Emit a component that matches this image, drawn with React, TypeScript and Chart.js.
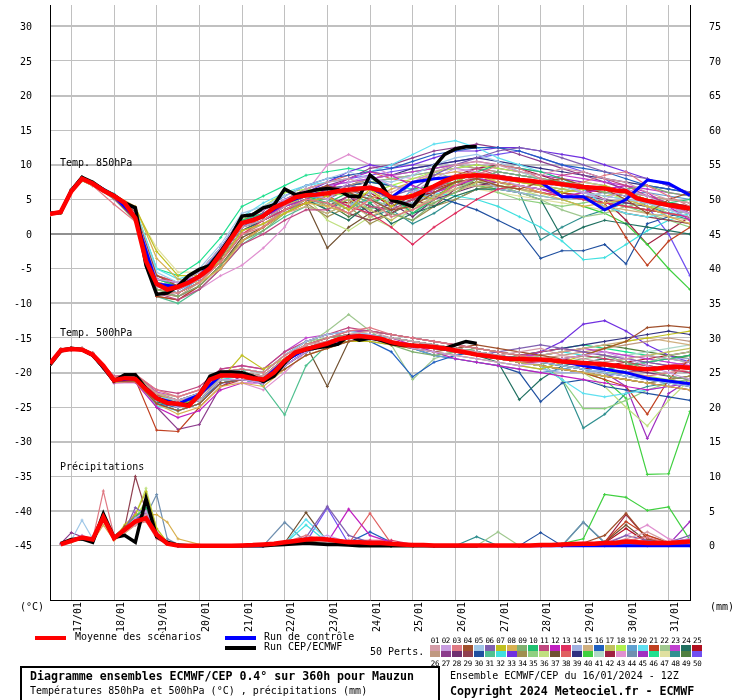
import React, { useEffect, useRef } from "react";
import { Chart, registerables } from "chart.js";
Chart.register(...registerables);

const FONT = "'DejaVu Sans Mono', monospace";

// ---- time axes (hours from 16/01 12Z) ----
const HOURS_6H = [0,6,12,18,24,30,36,42,48,54,60,66,72,78,84,90,96,102,108,114,120,126,132,138,144,150,156,162,168,174,180,186,192,198,204,210,216,222,228,234,240,246,252,258,264,270,276,282,288,294,300,306,312,318,324,330,336,342,348,354,360];
const PRECIP_HOURS_6H = HOURS_6H.slice(1);
const MEMBER_HOURS = [0,6,12,18,24,36,48,60,72,84,96,108,120,132,144,156,168,180,192,204,216,228,240,252,264,276,288,300,312,324,336,348,360];
const MEMBER_PRECIP_HOURS = [6,12,18,24,30,36,42,48,54,60,66,72,84,96,108,120,132,144,156,168,180,192,204,216,228,240,252,264,276,288,300,312,324,336,348,360];
const DAY_TICK_HOURS = [12,36,60,84,108,132,156,180,204,228,252,276,300,324,348];
const DAY_LABELS = ["17/01","18/01","19/01","20/01","21/01","22/01","23/01","24/01","25/01","26/01","27/01","28/01","29/01","30/01","31/01"];
const LEFT_TICKS = [-45,-40,-35,-30,-25,-20,-15,-10,-5,0,5,10,15,20,25,30];
const RIGHT_TICKS = [0,5,10,15,20,25,30,35,40,45,50,55,60,65,70,75];

// ---- ensemble mean (red) ----
const MEAN_T850 = [2.9,3.2,6.2,8.0,7.3,6.3,5.5,4.5,2.3,-3.9,-7.2,-8.0,-7.6,-7.0,-6.1,-4.9,-2.8,-0.6,1.6,2.0,2.6,3.8,4.5,5.3,5.6,5.7,5.9,6.2,6.4,6.6,6.7,6.3,5.3,5.2,5.5,6.2,6.9,7.7,8.2,8.4,8.5,8.4,8.2,8.0,7.8,7.7,7.5,7.4,7.2,7.0,6.8,6.7,6.6,6.3,6.2,5.2,4.8,4.5,4.2,3.9,3.7];
const MEAN_T500 = [-18.7,-16.8,-16.6,-16.7,-17.4,-19.0,-21.1,-20.8,-20.9,-22.4,-23.7,-24.4,-24.5,-24.8,-23.2,-21.0,-20.4,-20.4,-20.5,-20.8,-21.0,-20.0,-18.3,-17.1,-16.6,-16.2,-15.8,-15.2,-14.9,-14.7,-14.9,-15.1,-15.6,-15.9,-16.1,-16.2,-16.3,-16.5,-16.8,-17.1,-17.4,-17.6,-17.8,-18.0,-18.0,-18.1,-18.1,-18.2,-18.4,-18.5,-18.6,-18.7,-18.8,-19.0,-19.2,-19.4,-19.5,-19.4,-19.2,-19.2,-19.3];
const MEAN_PRECIP = [0.2,0.7,1.2,0.9,4.1,1.1,2.3,3.5,4.0,1.6,0.3,0.05,0,0,0,0,0,0.05,0.1,0.2,0.3,0.5,0.7,0.9,1.0,0.9,0.7,0.5,0.5,0.4,0.4,0.3,0.2,0.1,0.1,0.05,0.05,0.05,0.05,0.05,0.05,0.05,0.05,0.05,0.05,0.1,0.1,0.2,0.25,0.3,0.3,0.4,0.4,0.6,0.5,0.4,0.4,0.4,0.5,0.6];

// ---- operational run CEP/ECMWF (black), to 240h ----
const OPER_T850 = [3.0,3.1,6.3,8.2,7.5,6.4,5.6,4.5,3.8,-4.5,-8.7,-8.5,-7.5,-6.0,-5.1,-4.5,-2.5,-0.3,2.6,2.8,3.8,4.2,6.5,5.7,6.0,6.4,6.6,6.4,5.5,5.4,8.5,7.3,4.9,4.5,4.0,5.9,9.7,11.5,12.3,12.6,12.6];
const OPER_T500 = [-18.9,-16.9,-16.5,-16.7,-17.5,-19.2,-21.2,-20.3,-20.3,-22.3,-23.7,-24.3,-24.6,-24.6,-23.3,-20.5,-19.9,-19.9,-20.0,-20.5,-21.3,-20.5,-18.6,-17.1,-16.7,-16.4,-16.2,-15.9,-14.7,-15.3,-15.0,-15.3,-15.8,-16.0,-16.1,-16.2,-16.3,-16.5,-16.0,-15.5,-15.8];
const OPER_PRECIP = [0.3,0.9,1.0,0.5,4.6,1.2,1.5,0.5,6.8,1.3,0.5,0.1,0,0,0,0,0,0,0,0,0.1,0.2,0.3,0.4,0.3,0.2,0.2,0.1,0,0,0,0,0,0,0,0,0,0,0,0];

// ---- control run (blue) ----
const CTRL_T850 = [3.0,3.1,6.3,8.1,7.4,5.5,2.4,-7.2,-7.6,-6.1,-2.8,1.6,2.6,4.5,5.6,5.9,6.4,6.7,5.3,7.5,8.0,8.2,8.5,8.2,7.8,7.5,5.4,5.4,3.5,5.0,7.8,7.3,5.6];
const CTRL_T500 = [-18.7,-16.8,-16.6,-16.7,-17.4,-21.1,-20.9,-23.7,-24.5,-23.2,-20.4,-20.5,-21.0,-18.3,-16.6,-15.8,-14.9,-14.9,-15.6,-16.1,-16.3,-16.8,-17.4,-17.8,-18.0,-18.1,-18.4,-19.0,-19.5,-20.0,-20.8,-21.2,-21.6];
const CTRL_PRECIP = [0.2,0.7,1.2,0.9,4.1,1.1,2.3,3.5,4.0,1.6,0.3,0,0,0,0,0,0.5,0.9,0.9,0.5,0.4,0.3,0.1,0,0,0,0,0,0,0,0,0,0,0,0,0];

// ---- 50 perturbed members ----
const MEMBER_COLORS = ["#d49ca8","#c89ce0","#e07a84","#a0502c","#a0c8e8","#8060b0","#c0c020","#d8b050","#80b070","#20c070","#c04880","#c020c0","#e03060","#a0b0e0","#d0b080","#2060c0","#c0c060","#b0f050","#60a0d0","#60e0f0","#c04020","#a0c890","#c040d0","#207060","#b01020","#c09880","#8c3c8c","#703070","#904050","#2050a0","#50c090","#40e0e0","#7030e0","#a09050","#90d080","#c0e080","#705030","#e06060","#303080","#40d040","#b0d8c8","#a02040","#e090d0","#7090b0","#a030c0","#20e090","#e0e0a0","#309090","#508040","#7050f0"];

const MEMBERS_T850 = [
[2.9,3.2,6.2,8.0,7.2,5.4,2.6,-7.5,-8.0,-6.5,-3.0,1.0,2.0,4.0,6.5,7.5,8.0,7.0,6.0,7.5,9.0,10.0,10.5,10.0,9.0,8.5,9.5,9.0,8.0,7.5,6.0,5.0,4.5],
[3.0,3.3,6.4,8.2,7.4,5.6,3.0,-6.5,-7.0,-5.5,-2.0,2.5,3.5,5.0,6.0,5.0,7.5,8.5,7.0,6.0,8.0,9.5,9.0,8.0,7.0,6.5,7.5,6.0,5.0,6.5,5.5,4.0,3.0],
[2.8,3.1,6.1,7.8,7.0,4.3,1.8,-8.5,-8.5,-7.0,-4.0,0.0,1.0,3.5,5.0,4.5,3.0,5.0,2.5,3.5,5.0,7.0,8.5,10.0,9.5,8.0,7.0,7.5,8.5,9.0,7.0,5.5,4.0],
[2.9,3.2,6.3,8.1,7.3,5.5,3.2,-6.0,-7.5,-6.0,-3.5,1.5,2.5,4.5,6.0,7.0,6.0,5.0,3.5,4.0,6.0,7.5,8.0,7.0,6.5,7.5,8.0,7.0,6.5,5.0,3.0,5.0,6.0],
[3.0,3.3,6.5,8.3,7.5,5.8,3.5,-5.5,-7.0,-5.0,-1.5,3.0,4.0,5.5,7.0,8.0,9.0,8.0,7.5,8.5,10.0,11.0,11.5,10.5,9.0,8.0,7.0,6.0,5.5,5.0,4.5,3.5,2.5],
[2.9,3.2,6.2,8.0,7.3,5.5,2.5,-7.0,-8.0,-6.5,-3.0,1.0,3.0,5.0,6.0,6.5,7.0,6.5,5.5,6.5,8.5,10.0,11.0,12.0,12.5,12.0,11.0,10.0,9.0,8.5,8.0,7.0,6.0],
[2.8,3.0,6.0,7.7,7.0,5.3,3.8,-2.5,-6.0,-6.0,-4.0,0.5,1.5,3.0,4.5,5.5,3.5,6.5,4.0,6.0,5.0,7.5,9.0,8.0,7.5,7.0,6.0,6.5,7.0,6.0,5.0,4.0,3.5],
[3.0,3.3,6.4,8.3,7.5,5.7,4.0,-3.5,-6.5,-7.0,-5.0,-1.0,1.0,3.0,4.5,4.0,3.0,5.0,6.5,7.5,8.5,9.0,8.5,7.5,7.0,6.0,5.0,4.0,4.5,5.0,4.0,2.5,1.5],
[2.9,3.1,6.2,7.9,7.2,5.4,2.4,-8.0,-9.0,-7.5,-4.5,-1.0,0.5,3.0,5.0,5.0,3.5,5.5,3.0,2.0,4.5,6.0,8.0,9.0,8.5,8.0,7.5,7.0,6.0,6.5,7.0,6.0,5.5],
[3.0,3.2,6.3,8.1,7.4,5.6,3.0,-6.5,-7.5,-6.0,-2.5,2.0,3.0,4.5,5.5,4.5,6.0,4.5,5.5,3.0,5.0,7.5,9.0,10.0,9.5,9.0,8.0,7.0,6.5,6.0,5.0,4.5,5.0],
[2.8,3.1,6.1,7.9,7.1,5.2,2.2,-8.5,-9.5,-8.0,-5.0,-1.5,0.0,2.0,3.5,3.5,5.5,4.0,3.5,5.0,6.5,8.0,9.5,8.5,8.0,7.5,8.5,9.0,8.0,7.0,5.5,4.5,3.0],
[2.9,3.2,6.2,8.0,7.3,5.5,2.7,-7.5,-8.0,-6.5,-3.0,1.5,2.5,4.0,5.0,6.5,8.0,9.0,8.5,7.0,6.0,7.0,8.0,7.5,7.0,6.5,5.5,6.0,6.5,7.0,6.0,4.0,2.0],
[3.0,3.3,6.4,8.2,7.4,5.7,3.4,-6.0,-7.0,-6.5,-4.0,0.0,2.0,3.5,4.5,5.5,4.0,3.0,1.0,-1.5,1.0,3.0,5.0,6.5,7.0,6.0,5.5,5.0,4.5,4.0,3.5,3.0,2.5],
[2.9,3.2,6.3,8.1,7.3,5.5,2.8,-7.0,-7.5,-6.0,-2.5,1.0,2.5,4.5,6.5,5.0,4.0,6.0,5.0,4.5,6.0,7.0,8.5,6.5,6.0,5.5,5.0,5.5,6.0,5.5,4.5,3.5,3.0],
[2.8,3.1,6.1,7.9,7.2,5.3,2.4,-8.0,-8.5,-7.0,-3.5,0.5,1.5,3.0,4.0,3.0,4.5,2.5,4.0,3.5,5.5,6.5,7.0,7.0,6.5,6.0,5.5,5.0,4.0,3.5,3.0,2.5,2.0],
[3.0,3.2,6.3,8.0,7.4,5.6,2.9,-7.0,-8.0,-6.0,-2.0,2.5,3.5,5.5,7.0,8.0,8.5,9.0,9.5,10.5,11.5,12.0,12.5,12.5,12.0,11.0,10.0,9.5,9.0,8.0,7.0,6.5,6.0],
[2.9,3.2,6.2,8.0,7.3,5.4,2.6,-7.5,-8.0,-6.5,-3.0,1.5,2.5,4.0,5.5,4.0,5.0,3.5,2.0,4.0,4.5,6.0,7.5,8.0,7.5,7.0,6.5,6.0,5.5,6.0,5.0,4.0,3.5],
[3.0,3.3,6.4,8.2,7.5,5.7,3.3,-6.0,-7.0,-5.5,-2.0,2.0,4.0,6.0,6.5,6.0,5.5,6.0,7.0,8.0,9.0,9.5,10.0,9.5,9.0,8.0,7.5,7.0,6.0,5.0,4.0,3.5,3.0],
[2.9,3.2,6.2,8.0,7.2,5.5,2.7,-7.5,-8.5,-6.5,-3.0,1.0,2.0,3.5,5.0,5.5,4.0,5.0,3.5,6.5,5.0,7.5,8.0,9.0,8.5,8.0,7.5,7.0,6.5,6.0,6.0,5.5,5.0],
[3.0,3.3,6.5,8.3,7.5,5.8,3.5,-5.0,-6.5,-5.5,-2.0,2.5,4.5,6.0,7.0,7.5,8.0,9.0,10.0,11.5,13.0,13.5,12.5,11.0,10.0,9.0,8.0,6.5,4.0,3.0,2.5,3.0,4.0],
[2.8,3.0,6.0,7.8,7.0,5.2,2.0,-9.0,-9.5,-7.5,-4.5,-1.0,1.0,3.0,4.5,5.5,6.0,6.5,5.0,5.5,6.5,7.5,8.0,7.5,7.0,6.5,6.0,5.5,4.5,-0.5,-4.5,-1.0,1.0],
[2.9,3.2,6.2,8.0,7.3,5.5,2.8,-7.0,-7.5,-6.0,-3.0,1.0,2.5,4.0,5.5,4.5,6.0,3.5,5.0,3.0,5.5,6.5,8.0,7.0,6.0,5.0,3.5,2.5,3.0,4.0,4.5,3.0,2.5],
[3.0,3.3,6.4,8.2,7.4,5.6,3.1,-6.5,-7.0,-6.0,-2.5,1.5,3.0,4.5,6.0,7.0,7.5,8.0,8.5,9.0,9.5,10.0,10.5,10.0,9.5,9.0,8.5,8.0,7.5,7.0,6.5,6.0,5.5],
[2.9,3.1,6.1,7.9,7.2,5.4,2.5,-8.0,-8.5,-7.0,-3.5,0.5,2.0,4.0,5.0,3.5,2.0,4.5,1.5,3.0,4.0,5.5,6.5,6.5,6.0,5.0,-0.5,1.0,2.0,1.5,1.0,0.5,0.0],
[3.0,3.2,6.3,8.1,7.3,5.5,2.9,-7.0,-7.5,-6.0,-2.5,1.5,3.0,4.5,6.0,5.0,4.5,6.0,4.0,5.5,6.0,7.5,8.0,8.5,8.0,7.5,7.0,6.5,6.0,5.5,5.0,4.5,4.0],
[2.8,3.1,6.1,7.8,7.1,5.3,2.3,-8.5,-9.0,-7.0,-4.0,0.0,1.5,3.5,5.0,6.0,7.0,8.0,8.5,9.0,9.5,10.0,9.5,9.0,8.5,8.0,7.5,7.0,6.5,6.0,5.5,5.0,4.5],
[3.0,3.3,6.4,8.2,7.4,5.6,3.2,-6.5,-7.0,-5.5,-2.0,2.0,3.5,5.0,6.0,7.0,8.0,9.5,10.0,11.0,12.0,12.5,13.0,12.5,11.5,10.5,9.5,8.5,7.5,6.5,5.5,4.5,3.5],
[2.9,3.2,6.2,8.0,7.3,5.5,2.6,-7.5,-8.0,-6.5,-3.0,1.0,2.5,4.0,5.5,4.0,5.5,3.0,4.5,2.5,5.0,6.0,7.0,7.5,7.0,6.5,6.0,5.5,5.0,4.5,4.0,3.5,3.0],
[2.9,3.1,6.2,7.9,7.2,5.4,2.5,-8.0,-8.5,-7.0,-3.5,0.5,2.0,3.5,5.0,4.5,3.0,2.0,3.0,5.0,4.0,6.5,7.5,8.5,8.0,7.0,6.0,5.0,4.0,3.0,2.5,2.0,1.5],
[3.0,3.2,6.3,8.1,7.3,5.5,2.8,-7.0,-8.0,-6.5,-3.0,1.0,2.5,4.0,5.5,6.5,7.0,7.5,7.0,6.0,5.5,4.5,3.5,2.0,0.5,-3.5,-2.4,-2.4,-1.5,-4.3,1.5,2.5,3.5],
[2.8,3.0,6.0,7.7,7.0,5.1,1.9,-9.0,-10.0,-8.0,-5.0,-1.5,0.5,2.5,4.0,3.0,4.5,3.5,5.0,4.5,6.0,7.5,9.0,8.0,7.5,7.0,6.5,6.0,5.5,5.0,4.5,4.0,3.5],
[3.0,3.3,6.4,8.2,7.5,5.7,3.3,-6.0,-7.0,-5.5,-2.0,2.0,3.0,4.5,6.0,7.0,7.5,8.0,7.0,6.5,6.0,5.5,5.0,4.0,2.5,1.0,-1.0,-3.7,-3.4,-1.5,0.5,2.0,3.0],
[2.9,3.2,6.3,8.1,7.3,5.5,2.7,-7.5,-8.0,-6.5,-3.0,1.0,2.0,4.0,6.0,7.5,9.0,10.0,9.5,10.0,11.0,12.0,12.0,12.5,12.5,12.0,11.5,11.0,10.0,9.0,8.0,7.0,6.0],
[2.9,3.1,6.1,7.9,7.2,5.3,2.4,-8.0,-8.5,-7.0,-4.0,0.0,1.5,3.0,4.5,2.5,4.0,1.5,3.0,2.0,4.0,5.0,6.5,7.0,6.5,6.0,5.5,5.0,4.5,4.0,3.5,3.0,2.5],
[3.0,3.2,6.3,8.1,7.4,5.6,3.0,-6.5,-7.5,-6.0,-2.5,1.5,3.0,4.5,6.0,6.5,7.0,7.5,8.0,8.5,9.0,8.0,7.0,6.0,5.0,4.5,4.0,4.5,5.0,4.0,3.0,2.0,1.0],
[2.9,3.2,6.2,8.0,7.3,5.5,2.8,-7.0,-7.5,-6.0,-3.0,1.0,2.5,4.0,5.5,2.0,0.5,2.5,1.0,4.0,5.0,6.5,8.0,7.5,6.5,5.5,6.5,7.5,7.0,6.0,5.5,5.0,4.5],
[2.8,3.1,6.1,7.8,7.1,5.2,2.2,-8.5,-9.0,-7.5,-4.5,-0.5,1.0,3.5,4.5,-2.0,1.0,3.0,4.0,5.0,6.0,7.0,7.5,7.0,6.5,6.0,5.5,5.0,4.5,4.0,3.5,3.0,2.5],
[3.0,3.3,6.4,8.2,7.4,5.6,3.1,-6.5,-7.0,-5.5,-2.5,1.5,3.5,5.0,6.5,7.5,8.5,9.0,8.0,7.5,8.0,8.5,9.0,8.5,8.0,7.5,7.0,6.5,6.0,5.5,5.0,4.5,4.0],
[2.9,3.2,6.2,8.0,7.3,5.5,2.7,-7.5,-8.0,-6.5,-3.0,1.0,2.0,3.5,5.0,6.0,7.0,8.0,8.5,9.5,10.0,10.5,11.0,10.5,10.0,9.5,9.0,8.5,8.0,7.5,7.0,6.5,6.0],
[3.0,3.2,6.3,8.1,7.3,5.6,3.0,-6.5,-7.5,-6.0,-2.5,1.5,3.0,4.5,6.0,6.5,7.0,7.5,7.0,6.5,7.0,7.5,7.0,6.5,6.0,5.5,5.0,4.0,3.0,1.5,-1.5,-5.0,-8.0],
[2.9,3.1,6.2,7.9,7.2,5.4,2.5,-8.0,-8.5,-7.0,-3.5,0.5,2.0,3.5,5.0,4.0,3.0,4.5,2.5,3.0,4.5,6.5,7.5,7.5,7.0,6.5,6.0,5.5,5.0,4.5,4.0,3.5,3.0],
[3.0,3.3,6.4,8.2,7.4,5.7,3.3,-6.0,-7.0,-5.5,-2.0,2.0,3.0,4.5,6.0,7.0,6.5,5.5,4.5,5.5,7.0,8.5,9.5,10.0,9.5,8.5,7.5,6.5,5.0,2.0,-1.5,0.5,2.5],
[2.9,3.2,6.2,8.0,7.3,5.0,2.4,-7.5,-9.0,-8.0,-6.0,-4.5,-2.0,1.0,6.0,10.0,11.5,10.0,8.5,8.0,8.5,9.0,9.5,9.0,8.5,8.0,7.5,7.0,6.5,6.0,5.5,5.0,4.5],
[3.0,3.2,6.3,8.1,7.3,5.5,2.9,-7.0,-8.0,-6.5,-3.0,1.0,2.5,4.0,5.5,5.0,6.5,5.0,4.0,5.0,6.5,7.0,8.0,9.0,8.5,8.0,7.0,6.0,5.0,4.0,3.5,3.0,2.5],
[2.9,3.2,6.2,8.0,7.3,5.5,2.6,-7.5,-8.5,-7.0,-3.5,0.5,2.0,3.5,5.0,6.0,7.0,7.5,8.0,8.5,9.0,9.5,10.0,9.5,9.0,8.5,8.0,7.5,7.0,6.0,5.0,4.0,3.0],
[3.0,3.3,6.5,8.3,7.5,5.8,3.6,-5.0,-6.0,-4.0,-0.5,4.0,5.5,7.0,8.5,9.0,9.5,9.0,8.5,9.0,9.5,10.0,9.5,9.0,8.5,8.0,7.5,7.0,6.5,6.0,5.5,5.0,4.5],
[2.9,3.1,6.1,7.9,7.2,5.4,3.5,-2.0,-5.5,-5.5,-3.5,0.5,2.5,4.0,5.0,3.5,4.5,6.0,4.0,5.5,4.0,5.5,6.5,6.0,5.5,5.0,4.5,4.0,3.5,3.0,2.5,2.0,1.5],
[3.0,3.2,6.3,8.1,7.3,5.5,2.8,-7.0,-8.0,-6.5,-3.0,1.0,2.5,4.0,5.5,3.5,5.0,2.5,3.5,1.5,3.0,5.0,6.5,7.0,6.0,-0.8,1.0,2.5,3.5,4.5,4.0,3.0,2.0],
[2.8,3.1,6.1,7.8,7.1,5.2,2.1,-9.0,-9.5,-7.5,-4.5,-1.0,1.0,3.0,4.5,4.5,2.5,4.0,3.0,4.5,5.5,7.0,8.5,8.5,8.0,7.5,7.0,6.5,6.0,5.5,5.0,4.5,4.0],
[3.0,3.3,6.4,8.2,7.4,5.6,3.2,-6.5,-7.0,-5.5,-2.0,2.0,3.5,5.0,6.5,7.5,8.0,8.5,9.0,9.5,10.0,10.5,11.0,11.5,12.0,11.0,10.0,9.0,8.0,6.0,4.0,0.0,-6.0]
];

const MEMBERS_T500 = [
[-18.6,-16.7,-16.5,-16.6,-17.3,-20.8,-20.5,-23.0,-24.0,-23.5,-20.5,-20.0,-20.5,-18.0,-16.0,-15.5,-14.5,-14.0,-15.0,-15.5,-16.0,-16.5,-17.0,-17.5,-17.0,-16.5,-17.5,-18.0,-18.5,-18.0,-17.5,-18.0,-18.5],
[-18.7,-16.8,-16.6,-16.7,-17.5,-21.2,-21.0,-24.0,-25.0,-24.0,-21.0,-21.0,-21.5,-19.0,-17.0,-16.0,-15.0,-14.5,-15.5,-16.5,-17.0,-17.5,-18.0,-18.5,-19.0,-18.5,-18.0,-17.5,-17.0,-18.0,-19.0,-20.0,-21.0],
[-18.5,-16.6,-16.4,-16.5,-17.2,-20.6,-20.2,-22.5,-23.5,-22.5,-19.8,-19.5,-20.0,-17.5,-16.0,-15.0,-14.0,-13.5,-14.5,-15.0,-15.5,-16.0,-16.5,-17.0,-17.5,-18.0,-18.5,-19.0,-19.5,-20.0,-20.5,-20.0,-19.5],
[-18.8,-16.9,-16.7,-16.8,-17.6,-21.3,-21.2,-24.5,-25.5,-24.5,-21.5,-21.0,-21.0,-19.5,-17.5,-16.5,-15.5,-15.0,-16.0,-16.5,-17.0,-16.5,-16.0,-16.5,-17.0,-17.5,-18.0,-17.5,-16.5,-15.5,-13.5,-13.2,-13.5],
[-18.6,-16.7,-16.5,-16.6,-17.3,-20.9,-20.7,-23.5,-24.0,-23.0,-20.0,-19.5,-20.0,-17.5,-15.5,-14.5,-14.0,-14.5,-15.0,-15.5,-16.0,-16.5,-17.0,-17.5,-18.0,-18.5,-19.0,-19.5,-20.0,-20.5,-21.0,-21.5,-22.0],
[-18.7,-16.8,-16.6,-16.7,-17.4,-21.0,-20.8,-23.8,-24.5,-23.0,-20.5,-20.5,-21.0,-18.5,-16.5,-15.5,-14.5,-14.5,-15.5,-16.0,-16.5,-17.0,-17.5,-17.0,-16.5,-16.0,-16.5,-17.0,-17.5,-18.0,-18.5,-19.0,-19.5],
[-18.5,-16.6,-16.4,-16.5,-17.2,-20.7,-20.4,-23.0,-24.5,-24.0,-21.0,-17.5,-19.5,-18.0,-16.5,-16.0,-15.5,-15.5,-16.0,-16.5,-17.0,-17.5,-18.0,-18.5,-19.0,-19.5,-18.5,-17.5,-16.5,-15.5,-15.0,-14.5,-14.0],
[-18.8,-16.9,-16.7,-16.8,-17.6,-21.4,-21.3,-24.5,-26.0,-25.0,-22.0,-21.5,-22.0,-19.5,-17.5,-16.5,-15.5,-15.0,-15.5,-16.0,-16.5,-17.0,-17.5,-18.0,-18.5,-19.0,-19.5,-20.0,-20.5,-21.0,-21.5,-22.0,-22.5],
[-18.6,-16.7,-16.5,-16.6,-17.3,-20.9,-20.6,-23.5,-24.0,-23.5,-20.5,-20.0,-20.5,-18.0,-16.0,-15.0,-14.5,-15.0,-16.0,-17.0,-17.5,-17.0,-16.5,-17.0,-17.5,-18.0,-18.5,-18.0,-17.5,-18.5,-19.5,-20.5,-21.0],
[-18.7,-16.8,-16.6,-16.7,-17.5,-21.1,-21.0,-24.0,-24.5,-23.5,-20.5,-20.5,-21.0,-18.5,-16.5,-15.5,-15.0,-14.5,-15.0,-15.5,-16.0,-16.5,-17.0,-17.5,-18.0,-18.0,-18.5,-19.0,-19.5,-19.0,-18.5,-18.0,-17.5],
[-18.5,-16.6,-16.4,-16.5,-17.2,-20.5,-20.3,-22.5,-23.0,-22.0,-19.5,-19.0,-19.5,-17.0,-15.5,-14.5,-13.5,-14.0,-14.5,-15.0,-15.5,-16.0,-16.5,-17.0,-17.5,-17.0,-16.5,-17.0,-17.5,-18.0,-18.5,-19.0,-19.5],
[-18.8,-16.9,-16.7,-16.8,-17.6,-21.5,-21.4,-25.0,-26.5,-25.5,-22.5,-21.5,-21.5,-19.0,-17.0,-16.0,-15.0,-14.5,-15.0,-16.0,-17.0,-18.0,-18.5,-19.0,-19.5,-20.0,-20.5,-21.0,-21.5,-22.0,-22.5,-22.0,-21.5],
[-18.6,-16.7,-16.5,-16.6,-17.3,-20.8,-20.6,-23.2,-24.0,-23.0,-20.0,-20.0,-20.5,-18.0,-16.0,-15.0,-14.5,-14.5,-15.5,-16.0,-16.5,-17.0,-17.5,-18.0,-18.5,-18.5,-18.0,-17.5,-18.0,-18.5,-19.0,-19.5,-20.0],
[-18.7,-16.8,-16.6,-16.7,-17.4,-21.0,-20.9,-23.7,-24.5,-23.0,-20.5,-20.5,-21.0,-18.5,-16.5,-15.5,-15.0,-15.5,-16.0,-16.5,-17.0,-17.5,-18.0,-18.5,-19.0,-19.5,-20.0,-20.0,-19.5,-19.0,-18.5,-18.0,-18.0],
[-18.5,-16.6,-16.4,-16.5,-17.2,-20.6,-20.4,-23.0,-23.5,-22.5,-20.0,-19.5,-20.0,-17.5,-16.0,-15.5,-15.0,-15.0,-15.5,-16.0,-16.5,-17.0,-17.5,-18.0,-18.0,-17.5,-17.0,-16.5,-16.0,-15.5,-15.0,-15.5,-16.0],
[-18.8,-16.9,-16.7,-16.8,-17.6,-21.3,-21.2,-24.5,-25.0,-24.0,-21.5,-21.0,-21.5,-19.0,-17.0,-16.0,-15.5,-15.5,-17.0,-20.6,-18.5,-17.5,-17.0,-17.5,-18.0,-18.5,-19.0,-19.5,-20.0,-20.5,-21.0,-21.5,-22.0],
[-18.6,-16.7,-16.5,-16.6,-17.3,-20.9,-20.7,-23.5,-24.5,-23.5,-20.5,-20.0,-20.5,-18.0,-16.5,-15.5,-14.5,-14.0,-14.5,-15.0,-15.5,-16.0,-16.5,-17.0,-17.5,-18.0,-18.5,-19.0,-18.5,-18.0,-17.5,-17.0,-16.5],
[-18.7,-16.8,-16.6,-16.7,-17.5,-21.1,-21.0,-24.0,-24.5,-23.5,-20.5,-20.5,-21.0,-18.5,-16.5,-15.5,-15.0,-14.5,-15.0,-15.5,-16.0,-16.5,-17.0,-17.5,-18.0,-18.5,-19.0,-19.5,-20.0,-20.0,-20.5,-21.0,-21.5],
[-18.5,-16.6,-16.4,-16.5,-17.2,-20.7,-20.5,-23.0,-24.0,-23.0,-20.0,-19.5,-20.0,-17.5,-15.5,-14.5,-14.0,-14.5,-15.5,-16.5,-17.5,-18.0,-18.5,-19.0,-19.5,-20.0,-19.5,-19.0,-18.5,-18.0,-17.5,-18.0,-18.5],
[-18.8,-16.9,-16.7,-16.8,-17.6,-21.4,-21.3,-24.8,-25.5,-24.5,-21.5,-21.0,-21.5,-19.0,-17.0,-16.0,-15.0,-15.0,-15.5,-16.0,-16.5,-17.0,-17.5,-18.0,-18.5,-19.0,-21.0,-23.0,-23.5,-23.0,-22.5,-22.0,-21.5],
[-18.6,-16.7,-16.5,-16.6,-17.3,-21.0,-21.0,-28.3,-28.5,-25.0,-22.0,-21.0,-21.0,-18.5,-16.5,-15.5,-15.0,-15.0,-15.5,-16.0,-16.5,-17.0,-17.5,-18.0,-18.5,-19.0,-19.5,-20.0,-21.0,-22.0,-26.0,-21.0,-18.0],
[-18.7,-16.8,-16.6,-16.7,-17.4,-21.0,-20.8,-23.5,-24.5,-23.5,-20.5,-20.0,-20.5,-18.5,-16.0,-14.0,-11.6,-14.0,-16.0,-21.0,-18.0,-17.0,-17.5,-18.0,-18.5,-19.0,-19.5,-20.0,-20.5,-19.5,-18.5,-17.5,-17.0],
[-18.5,-16.6,-16.4,-16.5,-17.2,-20.6,-20.3,-22.8,-23.5,-22.5,-19.5,-19.0,-19.5,-17.0,-15.0,-14.5,-14.0,-14.0,-14.5,-15.0,-15.5,-16.0,-16.5,-17.0,-17.5,-17.5,-17.0,-16.5,-17.0,-17.5,-18.0,-18.5,-19.0],
[-18.8,-16.9,-16.7,-16.8,-17.6,-21.3,-21.1,-24.2,-25.0,-24.0,-21.0,-21.0,-21.5,-19.0,-17.0,-16.0,-15.5,-15.0,-15.5,-16.0,-16.5,-17.0,-17.5,-18.5,-23.9,-21.0,-19.0,-18.5,-18.0,-18.5,-19.0,-19.5,-20.0],
[-18.6,-16.7,-16.5,-16.6,-17.3,-20.9,-20.7,-23.6,-24.5,-23.5,-20.5,-20.5,-21.0,-18.5,-16.5,-15.5,-15.0,-14.5,-15.0,-15.5,-16.0,-16.5,-17.0,-17.5,-18.0,-18.5,-19.0,-19.5,-19.0,-18.5,-18.0,-17.5,-17.0],
[-18.7,-16.8,-16.6,-16.7,-17.5,-21.1,-20.9,-23.8,-24.5,-23.5,-20.5,-20.5,-21.0,-18.5,-16.5,-15.5,-15.0,-15.0,-15.5,-16.0,-16.5,-17.0,-17.5,-18.0,-18.5,-18.0,-17.5,-17.0,-16.5,-16.0,-15.5,-15.0,-15.5],
[-18.5,-16.6,-16.4,-16.5,-17.2,-20.7,-20.6,-25.0,-28.2,-27.5,-22.0,-20.5,-20.5,-18.0,-16.0,-15.0,-14.5,-14.5,-15.0,-15.5,-16.0,-16.5,-17.0,-17.5,-18.0,-18.5,-19.0,-19.5,-20.0,-20.5,-21.0,-21.5,-22.0],
[-18.8,-16.9,-16.7,-16.8,-17.6,-21.4,-21.2,-24.5,-25.5,-24.5,-21.5,-21.0,-21.0,-18.5,-16.5,-15.5,-15.0,-15.0,-15.5,-16.0,-16.5,-17.0,-17.5,-18.0,-18.5,-18.5,-18.0,-18.5,-19.0,-19.5,-20.0,-20.5,-21.0],
[-18.6,-16.7,-16.5,-16.6,-17.3,-20.8,-20.6,-23.4,-24.0,-23.0,-20.0,-20.0,-20.5,-18.0,-16.0,-15.0,-14.0,-14.0,-14.5,-15.0,-15.5,-16.0,-16.5,-17.0,-17.5,-18.0,-18.5,-19.0,-19.5,-19.0,-18.5,-18.0,-17.5],
[-18.7,-16.8,-16.6,-16.7,-17.4,-21.0,-20.9,-23.8,-24.5,-23.5,-20.5,-20.5,-21.0,-18.5,-16.5,-15.5,-15.0,-15.0,-15.5,-16.5,-17.5,-18.0,-18.5,-19.0,-20.0,-24.2,-21.5,-21.0,-22.0,-22.5,-23.0,-23.5,-24.0],
[-18.5,-16.6,-16.4,-16.5,-17.2,-20.6,-20.4,-23.0,-24.0,-23.0,-20.0,-19.5,-22.0,-26.1,-19.0,-16.0,-15.0,-15.0,-15.5,-16.0,-16.5,-17.0,-17.5,-18.0,-18.5,-19.0,-19.5,-20.0,-19.5,-19.0,-18.5,-18.0,-17.5],
[-18.8,-16.9,-16.7,-16.8,-17.6,-21.2,-21.0,-24.0,-25.0,-24.0,-21.0,-20.5,-21.0,-18.5,-16.5,-15.5,-14.5,-14.5,-15.0,-15.5,-16.0,-16.5,-17.0,-17.5,-18.0,-17.5,-17.0,-17.5,-18.0,-18.5,-19.0,-19.5,-20.0],
[-18.6,-16.7,-16.5,-16.6,-17.3,-20.9,-20.8,-23.7,-24.5,-23.5,-20.5,-20.5,-21.0,-18.5,-16.5,-15.5,-15.0,-14.5,-15.0,-15.5,-16.0,-16.5,-17.0,-17.5,-18.0,-17.0,-15.5,-13.0,-12.5,-14.0,-16.0,-17.5,-18.5],
[-18.7,-16.8,-16.6,-16.7,-17.5,-21.1,-20.9,-23.8,-24.5,-23.5,-20.5,-20.5,-21.0,-18.5,-16.5,-15.5,-15.0,-15.0,-15.5,-16.0,-16.5,-17.0,-17.5,-18.0,-18.5,-19.0,-19.5,-20.0,-20.5,-21.0,-21.5,-21.0,-20.5],
[-18.5,-16.6,-16.4,-16.5,-17.2,-20.7,-20.5,-23.2,-24.0,-23.0,-20.0,-19.5,-20.0,-17.5,-15.5,-15.0,-14.5,-14.5,-15.0,-15.5,-16.0,-16.5,-17.0,-17.5,-18.0,-18.5,-21.0,-25.2,-25.2,-24.0,-22.5,-21.5,-21.0],
[-18.8,-16.9,-16.7,-16.8,-17.6,-21.3,-21.1,-24.3,-25.0,-24.0,-21.0,-21.0,-21.5,-19.0,-17.0,-16.0,-15.0,-15.0,-15.5,-16.0,-16.5,-17.0,-17.5,-18.0,-18.5,-19.0,-19.5,-20.0,-22.0,-25.0,-27.7,-24.0,-21.0],
[-18.6,-16.7,-16.5,-16.6,-17.3,-20.9,-20.7,-23.5,-24.5,-23.5,-20.5,-20.5,-21.0,-18.5,-16.0,-22.0,-15.5,-15.0,-15.5,-16.0,-16.5,-17.0,-17.5,-18.0,-18.5,-19.0,-19.5,-20.0,-20.5,-21.0,-21.5,-21.0,-20.5],
[-18.7,-16.8,-16.6,-16.7,-17.4,-21.0,-20.8,-23.6,-24.5,-23.5,-20.5,-20.5,-21.0,-18.5,-16.5,-15.5,-14.5,-14.5,-15.0,-15.5,-16.0,-16.5,-17.0,-17.5,-18.0,-18.5,-19.0,-19.5,-20.0,-20.0,-19.5,-19.0,-18.5],
[-18.5,-16.6,-16.4,-16.5,-17.2,-20.6,-20.4,-23.0,-24.0,-23.0,-20.0,-19.5,-20.0,-17.5,-15.5,-14.5,-14.0,-14.0,-14.5,-15.0,-15.5,-16.0,-16.5,-17.0,-17.5,-17.0,-16.5,-16.0,-15.5,-15.0,-14.5,-14.0,-14.5],
[-18.8,-16.9,-16.7,-16.8,-17.6,-21.4,-21.2,-24.5,-25.5,-24.5,-21.5,-21.0,-21.5,-19.0,-17.0,-16.0,-15.0,-15.0,-15.5,-16.0,-16.5,-17.0,-17.5,-18.0,-18.5,-19.0,-19.5,-20.0,-21.0,-23.7,-34.7,-34.6,-25.6],
[-18.6,-16.7,-16.5,-16.6,-17.3,-20.8,-20.6,-23.4,-24.0,-23.0,-20.0,-20.0,-20.5,-18.0,-16.0,-15.0,-14.5,-14.5,-15.0,-15.5,-16.0,-16.5,-17.0,-17.5,-18.0,-18.5,-19.0,-18.5,-18.0,-17.5,-17.0,-16.5,-16.0],
[-18.7,-16.8,-16.6,-16.7,-17.5,-21.1,-20.9,-23.8,-24.5,-23.5,-20.5,-20.5,-21.0,-18.5,-16.5,-15.5,-15.0,-15.0,-15.5,-16.0,-16.5,-17.0,-17.5,-18.0,-18.5,-19.0,-19.5,-20.0,-20.5,-21.0,-21.5,-22.0,-22.5],
[-18.5,-16.6,-16.4,-16.5,-17.2,-20.7,-20.5,-23.2,-24.0,-23.0,-21.5,-21.5,-22.5,-20.0,-17.0,-15.5,-14.5,-14.5,-15.0,-15.5,-16.0,-16.5,-17.0,-17.5,-18.0,-18.5,-18.0,-17.5,-17.0,-17.5,-18.0,-18.5,-19.0],
[-18.8,-16.9,-16.7,-16.8,-17.6,-21.3,-21.1,-24.3,-25.0,-24.0,-21.0,-21.0,-21.5,-19.0,-17.0,-16.0,-15.5,-15.0,-15.5,-16.0,-16.5,-17.0,-17.5,-18.0,-18.5,-19.0,-19.5,-20.0,-20.5,-21.0,-21.5,-22.0,-22.5],
[-18.6,-16.7,-16.5,-16.6,-17.3,-20.9,-20.7,-23.5,-24.5,-23.5,-20.5,-20.5,-21.0,-18.5,-16.5,-15.5,-15.0,-14.5,-15.0,-15.5,-16.0,-16.5,-17.0,-17.5,-18.0,-18.5,-19.0,-19.5,-20.0,-22.0,-29.5,-23.0,-21.0],
[-18.7,-16.8,-16.6,-16.7,-17.4,-21.0,-20.8,-23.6,-24.5,-23.5,-20.5,-20.5,-21.0,-18.5,-16.5,-15.5,-15.0,-15.0,-15.5,-16.0,-16.5,-17.0,-17.5,-18.0,-17.5,-17.0,-16.5,-16.0,-16.5,-17.0,-17.5,-18.0,-18.5],
[-18.5,-16.6,-16.4,-16.5,-17.2,-20.6,-20.4,-23.0,-24.0,-23.0,-20.0,-19.5,-20.0,-17.5,-15.5,-15.0,-14.5,-14.5,-15.0,-15.5,-16.0,-16.5,-17.0,-17.5,-18.0,-18.5,-19.0,-19.5,-20.0,-20.5,-21.0,-21.5,-22.0],
[-18.8,-16.9,-16.7,-16.8,-17.6,-21.4,-21.2,-24.5,-25.5,-24.5,-21.5,-21.0,-21.5,-19.0,-17.0,-16.0,-15.0,-15.0,-15.5,-16.0,-16.5,-17.0,-17.5,-18.0,-18.5,-19.0,-21.0,-28.0,-26.0,-23.0,-22.0,-21.5,-21.0],
[-18.6,-16.7,-16.5,-16.6,-17.3,-20.8,-20.6,-23.4,-24.0,-23.0,-20.0,-20.0,-20.5,-18.0,-16.0,-15.0,-14.5,-14.5,-15.0,-15.5,-16.0,-16.5,-17.0,-17.5,-18.0,-17.5,-17.0,-16.5,-16.0,-16.5,-17.0,-17.5,-18.0],
[-18.7,-16.8,-16.6,-16.7,-17.5,-21.1,-20.9,-23.8,-24.5,-23.5,-20.5,-20.5,-21.0,-18.5,-16.5,-15.5,-15.0,-15.0,-15.5,-16.0,-16.5,-17.0,-17.5,-18.0,-18.5,-19.0,-19.5,-20.0,-20.5,-20.0,-19.5,-19.0,-18.5]
];

const MEMBERS_PRECIP = [
[0.2,0.6,1.0,0.8,3.5,1.0,2.0,3.0,4.5,1.5,0.2,0,0,0,0,0,0.3,1.0,0.5,0.8,0.3,0.2,0,0,0,0,0,0,0,0,0.5,0.3,1.0,2.0,0.5,0.3],
[0.3,0.8,1.5,1.0,4.0,1.2,2.5,4.0,5.0,2.0,0.3,0,0,0,0,0,0.2,0.8,1.5,0.5,0.3,0,0,0,0,0,0,0,0,0,0.3,0.5,0.2,0.4,0.6,1.0],
[0.2,0.7,1.2,0.9,7.9,1.5,2.0,3.0,3.5,1.0,0.2,0,0,0,0,0,0.5,1.5,0.8,0.3,0.5,0.2,0,0,0,0,0,0,0,0,0.2,0.4,0.8,1.2,0.3,0.2],
[0.3,0.9,1.3,0.8,4.5,1.0,2.8,3.5,4.0,1.8,0.4,0,0,0,0,0,0.3,0.5,1.0,0.4,0.2,0,0,0,0,0,0,0,0,0,0.4,1.5,4.7,1.0,0.5,0.8],
[0.4,0.8,3.7,1.0,3.8,1.1,2.0,3.2,4.2,1.5,0.2,0,0,0,0,0,0.2,0.6,0.3,0.5,0.2,0,0,0,0,0,0,0,0,0,0.2,0.3,0.5,0.2,0.3,0.4],
[0.2,0.6,1.1,0.7,4.2,1.3,2.2,5.5,4.5,2.0,0.3,0,0,0,0,0,0.4,1.2,5.7,1.5,0.5,0.3,0,0,0,0,0,0,0,0,0.3,0.2,1.5,0.8,0.5,1.5],
[0.3,0.7,1.4,0.9,4.0,1.0,3.0,4.5,7.8,2.5,0.5,0,0,0,0,0,0.2,0.5,0.3,0.2,0,0,0,0,0,0,0,0,0,0,0.2,0.4,0.3,0.5,0.2,0.3],
[0.2,0.5,1.0,0.6,3.0,0.8,1.8,3.0,4.5,4.5,3.4,1.0,0.2,0,0,0,0.3,0.6,0.2,0.5,0.2,0,0,0,0,0,0,0,0,0,0.2,0.3,0.5,0.2,0.3,0.2],
[0.2,0.7,1.2,0.8,4.3,1.2,2.4,3.8,4.0,1.5,0.2,0,0,0,0,0,0.3,0.8,0.5,0.3,0.2,0,0,0,0,0,0,0,0,0,0.3,0.2,0.4,0.6,0.3,0.5],
[0.3,0.8,1.3,1.0,4.5,1.4,2.6,4.2,5.5,1.8,0.3,0,0,0,0,0,0.4,0.5,1.0,0.2,0.3,0,0,0,0,0,0,0,0,0,0.3,0.5,0.8,0.4,0.2,0.6],
[0.2,0.6,1.1,0.8,3.8,1.0,2.1,3.4,3.8,1.4,0.2,0,0,0,0,0,0.2,0.4,0.6,0.3,0.5,0.2,0,0,0,0,0,0,0,0,0.2,0.3,0.5,0.8,0.4,0.3],
[0.3,0.9,1.4,0.9,4.4,1.3,2.7,4.4,4.6,1.9,0.4,0,0,0,0,0,0.3,0.7,0.5,5.3,1.5,0.5,0,0,0,0,0,0,0,0,0.3,0.2,0.6,0.4,0.3,0.5],
[0.2,0.7,1.2,0.9,4.0,1.1,2.3,3.6,3.9,1.6,0.3,0,0,0,0,0,0.3,0.6,0.4,0.8,0.8,0.8,0.2,0,0,0,0,0,0,0,0.2,0.4,0.8,0.5,0.3,0.4],
[0.3,0.8,1.3,1.0,4.1,1.2,2.4,3.7,4.1,1.7,0.3,0,0,0,0,0,0.2,0.5,0.3,0.2,0.1,0,0,0,0,0,0,0,0,0,0.2,0.3,0.4,0.2,0.3,0.2],
[0.2,0.6,1.0,0.7,3.6,0.9,2.0,3.2,3.5,1.3,0.2,0,0,0,0,0,0.4,1.0,0.6,0.4,0.2,0,0,0,0,0,0,0,0,0,0.2,0.3,0.5,0.3,0.2,0.3],
[0.3,0.8,1.3,0.9,4.2,1.2,2.5,3.9,4.4,1.7,0.3,0,0,0,0,0,0.3,0.4,0.6,0.5,2.0,0.5,0.2,0,0,0,0,0,0,0,0.2,0.3,0.4,0.3,0.2,0.4],
[0.2,0.7,1.1,0.8,3.9,1.0,2.2,3.5,4.2,1.5,0.2,0,0,0,0,0,0.2,0.5,0.3,0.4,0.2,0,0,0,0,0,0,0,0,0,0.3,0.5,0.6,0.4,0.3,0.5],
[0.3,0.8,1.2,0.9,4.6,1.3,2.6,4.0,6.5,2.0,0.4,0,0,0,0,0,0.3,0.6,0.4,0.3,0.2,0,0,0,0,0,0,0,0,0,0.2,0.3,0.4,0.3,0.2,0.3],
[0.2,0.6,1.1,0.8,3.7,1.0,2.1,3.3,4.0,1.4,0.2,0,0,0,0,0,0.4,0.7,0.5,0.6,0.3,0.2,0,0,0,0,0,0,0,0,0.3,0.5,0.8,0.3,0.2,0.4],
[0.3,0.7,1.2,0.9,4.0,1.1,2.3,3.6,4.5,1.6,0.3,0,0,0,0,0,0.3,3.8,0.8,0.5,0.3,0,0,0,0,0,0,0,0,0,0.2,0.4,0.5,0.3,0.2,0.3],
[0.2,0.6,1.0,0.8,3.5,1.0,2.0,3.2,3.8,1.5,0.2,0,0,0,0,0,0.2,0.5,0.3,0.2,0.1,0,0,0,0,0,0,0,0,0,0.3,0.6,3.5,1.5,0.5,0.4],
[0.3,0.8,1.3,1.0,4.3,1.2,2.5,3.8,4.3,1.7,0.3,0,0,0,0,0,0.3,0.6,0.4,0.3,0.2,0,0,0,0,0,2.0,0,0,0,0.2,0.3,0.4,0.3,0.2,0.3],
[0.2,0.7,1.2,0.9,4.1,1.1,2.3,4.8,4.0,1.6,0.3,0,0,0,0,0,0.3,0.5,0.6,0.3,0.2,0,0,0,0,0,0,0,0,0,0.2,0.4,0.5,0.3,0.2,0.4],
[0.3,0.8,1.2,0.9,4.0,1.1,2.4,3.7,4.2,1.6,0.3,0,0,0,0,0,0.2,0.4,0.3,0.2,0.1,0,0,0,0,0,0,0,0,0,0.2,0.3,0.4,0.3,0.5,0.3],
[0.2,0.6,1.1,0.8,3.8,1.0,2.2,4.0,4.5,1.5,0.2,0,0,0,0,0,0.3,0.5,0.4,0.3,0.2,0,0,0,0,0,0,0,0,0,0.2,0.4,2.5,0.5,0.3,0.4],
[0.2,0.7,1.2,0.9,4.2,1.1,2.3,3.6,4.1,1.6,0.3,0,0,0,0,0,0.3,0.6,0.4,0.3,0.2,0,0,0,0,0,0,0,0,0,0.2,0.4,0.5,0.3,0.2,0.3],
[0.3,1.9,1.3,0.9,4.0,1.2,2.5,3.8,4.3,1.7,0.3,0,0,0,0,0,0.4,0.7,0.5,0.3,0.2,0,0,0,0,0,0,0,0,0,0.2,0.3,0.4,0.3,0.2,0.4],
[0.2,0.6,1.0,0.7,3.6,1.0,2.1,3.3,3.7,1.4,0.2,0,0,0,0,0,0.2,0.5,0.3,0.2,0.1,0,0,0,0,0,0,0,0,0,0.2,0.3,0.4,0.3,0.2,0.3],
[0.3,0.8,1.3,1.0,4.5,1.3,2.6,10.0,5.0,1.8,0.3,0,0,0,0,0,0.3,0.6,0.4,0.3,0.2,0,0,0,0,0,0,0,0,0,0.2,0.4,0.6,0.3,0.2,0.5],
[0.2,0.7,1.1,0.8,3.9,1.0,2.2,3.5,4.0,1.5,0.2,0,0,0,0,0,0.3,0.5,0.4,0.3,0.2,0,0,0,0,0,0,0,1.9,0,0,0,0,0,0,0],
[0.3,0.8,1.2,0.9,4.1,1.2,2.4,3.7,4.2,1.6,0.3,0,0,0,0,0,0.2,0.4,0.3,0.2,0.1,0,0,0,0,0,0,0,0,0,0.2,0.3,0.4,0.3,0.2,0.3],
[0.2,0.7,1.2,0.9,4.0,1.1,2.3,3.6,4.1,1.6,0.3,0,0,0,0,0,0.3,3.0,0.5,0.3,0.2,0,0,0,0,0,0,0,0,0,0.2,0.4,0.5,0.3,0.2,0.4],
[0.3,0.8,1.3,1.0,4.3,1.3,2.5,3.9,4.4,1.7,0.3,0,0,0,0,0,0.3,0.6,0.4,0.3,0.2,0,0,0,0,0,0,0,0,0,0.2,0.3,0.4,0.3,0.5,1.0],
[0.2,0.6,1.1,0.8,3.8,1.0,2.2,3.4,3.9,1.5,0.2,0,0,0,0,0,0.2,0.4,0.3,0.2,0.1,0,0,0,0,0,0,0,0,0,0.2,0.3,0.4,0.3,0.2,0.3],
[0.3,0.7,1.2,0.9,4.0,1.1,2.3,3.6,4.2,1.6,0.3,0,0,0,0,0,0.3,0.5,0.4,0.3,0.2,0,0,0,0,0,0,0,0,0,0.2,0.4,0.5,0.3,0.2,0.4],
[0.2,0.8,1.3,1.0,4.2,1.2,2.4,4.5,8.3,2.5,0.4,0,0,0,0,0,0.3,0.6,0.4,0.3,0.2,0,0,0,0,0,0,0,0,0,0.2,0.3,0.4,0.3,0.2,0.3],
[0.3,0.7,1.1,0.8,3.9,1.0,2.2,3.5,4.0,1.5,0.2,0,0,0,0,0,0.4,4.8,0.6,0.3,0.2,0,0,0,0,0,0,0,0,0,0.3,0.5,3.0,0.6,0.3,0.4],
[0.2,0.7,1.2,0.9,4.1,1.1,2.3,3.7,4.1,1.6,0.3,0,0,0,0,0,0.3,0.5,0.4,0.3,4.7,0.3,0,0,0,0,0,0,0,0,0.2,0.3,0.5,1.5,0.4,0.3],
[0.3,0.8,1.3,1.0,4.4,1.3,2.6,4.0,4.5,1.7,0.3,0,0,0,0,0,0.2,0.4,0.3,0.2,0.1,0,0,0,0,0,0,0,0,0,0.2,0.3,0.4,0.3,0.2,0.3],
[0.2,0.6,1.0,0.8,3.6,1.0,2.1,3.3,3.8,1.4,0.2,0,0,0,0,0,0.3,0.5,0.4,0.3,0.2,0,0,0,0,0,0,0,0,0.3,1.0,7.4,7.0,5.1,5.6,0.8],
[0.3,0.7,1.2,0.9,4.0,1.1,2.3,3.6,4.1,1.6,0.3,0,0,0,0,0,0.2,0.4,0.3,0.2,0.1,0,0,0,0,0,0,0,0,0,0.2,0.3,0.4,0.3,0.2,0.3],
[0.2,0.8,1.3,1.0,4.3,1.2,2.5,3.8,4.3,1.7,0.3,0,0,0,0,0,0.3,0.6,0.4,0.3,0.2,0,0,0,0,0,0,0,0,0,0.2,0.5,4.5,1.0,0.3,0.4],
[0.3,0.7,1.1,0.8,3.9,1.0,2.2,3.5,4.0,1.5,0.2,0,0,0,0,0,0.3,0.5,0.4,0.3,0.2,0,0,0,0,0,0,0,0,0,0.2,0.4,1.5,3.0,1.0,0.5],
[0.2,0.7,1.2,0.9,4.1,1.1,2.3,3.7,4.3,7.4,1.0,0.2,0,0,0,0,3.4,0.5,0.4,0.3,0.2,0,0,0,0,0,0,0,0,0,3.4,0.5,0.4,0.3,0.2,0.3],
[0.3,0.8,1.3,1.0,4.4,1.3,2.6,4.0,4.5,1.7,0.3,0,0,0,0,0,0.2,0.4,0.3,0.2,0.1,0,0,0,0,0,0,0,0,0,0.2,0.3,0.4,0.3,0.2,3.5],
[0.2,0.6,1.0,0.8,3.6,1.0,2.1,3.3,3.8,1.4,0.2,0,0,0,0,0,0.3,0.5,0.4,0.3,0.2,0,0,0,0,0,0,0,0,0,0.2,0.3,0.4,0.3,0.2,0.3],
[0.3,0.7,1.2,0.9,4.0,1.1,2.3,3.6,4.1,1.6,0.3,0,0,0,0,0,0.3,0.5,0.4,0.3,0.2,0,0,0,0,0,0,0,0,0,0.2,0.4,0.5,0.3,0.2,0.4],
[0.2,0.8,1.3,1.0,4.2,1.2,2.4,3.8,4.3,1.7,0.3,0,0,0,0,0,0.3,0.6,0.4,0.3,0.2,0,0,0,0,1.3,0,0,0,0,3.4,0.4,0.3,0.2,0.3,0.2],
[0.3,0.7,1.1,0.8,3.9,1.0,2.2,3.5,4.0,1.5,0.2,0,0,0,0,0,0.2,0.4,0.3,0.2,0.1,0,0,0,0,0,0,0,0,0,0.2,0.3,0.4,0.3,0.2,0.3],
[0.2,0.7,1.2,0.9,4.1,1.1,2.3,3.7,4.2,1.6,0.3,0,0,0,0,0,0.3,0.5,5.5,0.3,0.2,0,0,0,0,0,0,0,0,0,0.2,0.4,0.5,0.3,0.2,0.4]
];

const pts = (hours: number[], vals: number[]) => vals.map((v, i) => ({ x: hours[i], y: v }));

function Label({ x, cy, size = 10, bold = false, children }: any) {
  return (
    <div style={{ position: "absolute", left: x, top: cy - size * 0.6, fontFamily: FONT, fontSize: size, lineHeight: `${size * 1.2}px`, fontWeight: bold ? "bold" : "normal", whiteSpace: "pre", color: "#000" }}>
      {children}
    </div>
  );
}

export default function App() {
  const ref = useRef<HTMLCanvasElement | null>(null);
  useEffect(() => {
    if (!ref.current) return;
    const mainLine = (label: string, color: string, width: number, data: any, axis: string) => ({
      label, data, borderColor: color, backgroundColor: color, borderWidth: width, pointRadius: 0, yAxisID: axis, tension: 0, fill: false,
    });
    const datasets: any[] = [
      mainLine("Moyenne T850", "#ff0000", 4.5, pts(HOURS_6H, MEAN_T850), "y"),
      mainLine("Moyenne T500", "#ff0000", 4.5, pts(HOURS_6H, MEAN_T500), "y"),
      mainLine("Moyenne précip", "#ff0000", 4.5, pts(PRECIP_HOURS_6H, MEAN_PRECIP), "yR"),
      mainLine("CEP T850", "#000000", 3.5, pts(HOURS_6H, OPER_T850), "y"),
      mainLine("CEP T500", "#000000", 3.5, pts(HOURS_6H, OPER_T500), "y"),
      mainLine("CEP précip", "#000000", 3.5, pts(PRECIP_HOURS_6H, OPER_PRECIP), "yR"),
      mainLine("Contrôle T850", "#0000ff", 3, pts(MEMBER_HOURS, CTRL_T850), "y"),
      mainLine("Contrôle T500", "#0000ff", 3, pts(MEMBER_HOURS, CTRL_T500), "y"),
      mainLine("Contrôle précip", "#0000ff", 3, pts(MEMBER_PRECIP_HOURS, CTRL_PRECIP), "yR"),
    ];
    const member = (label: string, color: string, data: any, axis: string) => ({
      label, data, borderColor: color, backgroundColor: color, borderWidth: 1.2, pointRadius: 1.5, pointStyle: "cross", pointBorderWidth: 1, pointBorderColor: color, yAxisID: axis, tension: 0, fill: false,
    });
    MEMBER_COLORS.forEach((c, i) => {
      datasets.push(member(`P${i + 1} T850`, c, pts(MEMBER_HOURS, MEMBERS_T850[i]), "y"));
      datasets.push(member(`P${i + 1} T500`, c, pts(MEMBER_HOURS, MEMBERS_T500[i]), "y"));
      datasets.push(member(`P${i + 1} précip`, c, pts(MEMBER_PRECIP_HOURS, MEMBERS_PRECIP[i]), "yR"));
    });
    const tickFont = { family: FONT, size: 10 };
    const chart = new Chart(ref.current, {
      type: "line",
      data: { datasets },
      options: {
        animation: false,
        responsive: false,
        maintainAspectRatio: false,
        events: [],
        layout: { padding: 0 },
        plugins: { legend: { display: false }, tooltip: { enabled: false } },
        scales: {
          x: {
            type: "linear", min: 0, max: 360, position: "bottom",
            afterBuildTicks: (s: any) => { s.ticks = DAY_TICK_HOURS.map((v) => ({ value: v })); },
            afterFit: (s: any) => { s.height = 100; s.paddingLeft = 0; s.paddingRight = 0; },
            grid: { color: "#c0c0c0", lineWidth: 1, drawTicks: false },
            border: { display: true, color: "#000", width: 1 },
            ticks: { autoSkip: false, minRotation: 90, maxRotation: 90, labelOffset: 7, padding: 2, color: "#000", font: tickFont, callback: (_v: any, i: number) => DAY_LABELS[i] },
          },
          y: {
            type: "linear", position: "left", min: -52.83, max: 33.08,
            afterBuildTicks: (s: any) => { s.ticks = LEFT_TICKS.map((v) => ({ value: v })); },
            afterFit: (s: any) => { s.width = 50; s.paddingTop = 0; s.paddingBottom = 0; },
            grid: {
              drawTicks: false,
              color: (ctx: any) => (ctx.tick && ctx.tick.value === 0 ? "#909090" : "#c0c0c0"),
              lineWidth: (ctx: any) => (ctx.tick && ctx.tick.value % 10 === 0 ? 2 : 1),
            },
            border: { display: true, color: "#000", width: 1 },
            ticks: { padding: 18, color: "#000", font: tickFont, labelOffset: 1, callback: (v: any) => String(v) },
          },
          yR: {
            type: "linear", position: "right", min: -7.83, max: 78.08,
            afterBuildTicks: (s: any) => { s.ticks = RIGHT_TICKS.map((v) => ({ value: v })); },
            afterFit: (s: any) => { s.width = 50; s.paddingTop = 0; s.paddingBottom = 0; },
            grid: { display: false, drawTicks: false },
            border: { display: true, color: "#000", width: 1 },
            ticks: { padding: 19, color: "#000", font: tickFont, labelOffset: 1, callback: (v: any) => String(v) },
          },
        },
      } as any,
    });
    return () => chart.destroy();
  }, []);

  const cellW = 10.93;
  return (
    <div style={{ position: "absolute", left: 0, top: 0, width: 740, height: 700, background: "#fff", overflow: "hidden" }}>
      <canvas ref={ref} width={740} height={700} style={{ position: "absolute", left: 0, top: 0, width: 740, height: 700, display: "block" }} />
      <Label x={60} cy={163}>Temp. 850hPa</Label>
      <Label x={60} cy={332.5}>Temp. 500hPa</Label>
      <Label x={60} cy={467}>Précipitations</Label>
      <Label x={20} cy={606.5}>(°C)</Label>
      <Label x={710} cy={607}>(mm)</Label>

      <div style={{ position: "absolute", left: 35, top: 635.5, width: 31, height: 4, background: "#ff0000" }} />
      <Label x={75} cy={637.3}>Moyenne des scénarios</Label>
      <div style={{ position: "absolute", left: 225, top: 635.5, width: 31, height: 4, background: "#0000ff" }} />
      <Label x={264} cy={637.3}>Run de contrôle</Label>
      <div style={{ position: "absolute", left: 225, top: 645.5, width: 31, height: 4, background: "#000000" }} />
      <Label x={264} cy={647.3}>Run CEP/ECMWF</Label>
      <Label x={370} cy={652.3}>50 Perts.</Label>

      {MEMBER_COLORS.map((c, i) => {
        const row = i < 25 ? 0 : 1;
        const col = i % 25;
        const left = 430 + col * cellW;
        return (
          <React.Fragment key={i}>
            <div style={{ position: "absolute", left, top: row === 0 ? 645 : 651, width: 10, height: 6, background: c }} />
            <div style={{ position: "absolute", left: left - 1, width: cellW + 1, top: row === 0 ? 635.5 : 658.5, fontFamily: FONT, fontSize: 7.5, lineHeight: "9px", textAlign: "center", color: "#000", letterSpacing: -0.3 }}>
              {String(i + 1).padStart(2, "0")}
            </div>
          </React.Fragment>
        );
      })}

      <div style={{ position: "absolute", left: 20, top: 666, width: 416, height: 34, border: "2px solid #000", background: "#fff" }} />
      <Label x={30} cy={677.3} size={11.6} bold>Diagramme ensembles ECMWF/CEP 0.4° sur 360h pour Mauzun</Label>
      <Label x={30} cy={691}>Températures 850hPa et 500hPa (°C) , précipitations (mm)</Label>
      <Label x={450} cy={675.7}>Ensemble ECMWF/CEP du 16/01/2024 - 12Z</Label>
      <Label x={450} cy={691.7} size={11.6} bold>Copyright 2024 Meteociel.fr - ECMWF</Label>
    </div>
  );
}
